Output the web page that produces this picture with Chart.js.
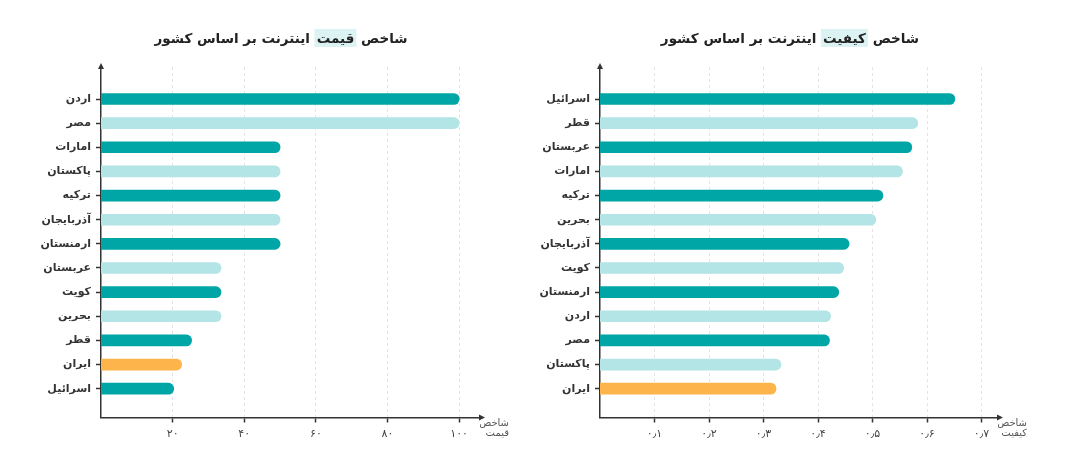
<!DOCTYPE html>
<html lang="fa">
<head>
<meta charset="utf-8">
<script src="https://cdn.jsdelivr.net/npm/chart.js@4.4.0/dist/chart.umd.min.js"></script>
<style>
  html, body { margin: 0; padding: 0; background: #fff; }
  body { width: 1080px; height: 462px; position: relative; overflow: hidden; font-family: "DejaVu Sans", sans-serif; }
  .panel { position: absolute; top: 0; width: 540px; height: 462px; }
  .title { position: absolute; top: 30px; transform: translateX(-50%); font-weight: bold; font-size: 13.5px; color: #222; direction: rtl; white-space: nowrap; }
  .title span { background: #dcf2f3; padding: 1px 2px; }
</style>
</head>
<body>
<div class="panel" style="left:0"><canvas id="priceChart"></canvas></div>
<div class="panel" style="left:540px"><canvas id="qualityChart"></canvas></div>
<div class="title" style="left:281px">شاخص <span>قیمت</span> اینترنت بر اساس کشور</div>
<div class="title" style="left:790px">شاخص <span>کیفیت</span> اینترنت بر اساس کشور</div>
<script>
// price index by country
const priceCountries = ["اردن", "مصر", "امارات", "پاکستان", "ترکیه", "آذربایجان", "ارمنستان", "عربستان", "کویت", "بحرین", "قطر", "ایران", "اسرائیل"];
const priceValues = [100, 100, 50, 50, 50, 50, 50, 33.5, 33.5, 33.5, 25.3, 22.5, 20.3];
const priceTicks = [20, 40, 60, 80, 100];
const priceTickLabels = ["۲۰", "۴۰", "۶۰", "۸۰", "۱۰۰"];

// quality index by country
const qualityCountries = ["اسرائیل", "قطر", "عربستان", "امارات", "ترکیه", "بحرین", "آذربایجان", "کویت", "ارمنستان", "اردن", "مصر", "پاکستان", "ایران"];
const qualityValues = [0.651, 0.583, 0.572, 0.555, 0.519, 0.506, 0.457, 0.447, 0.438, 0.423, 0.421, 0.332, 0.323];
const qualityTicks = [0.1, 0.2, 0.3, 0.4, 0.5, 0.6, 0.7];
const qualityTickLabels = ["۰٫۱", "۰٫۲", "۰٫۳", "۰٫۴", "۰٫۵", "۰٫۶", "۰٫۷"];

const DARK = "#00a5a6";
const LIGHT = "#b3e4e6";
const IRAN = "#fdb44b";
const FONT = '"DejaVu Sans", sans-serif';

const axisExtras = {
  id: "axisExtras",
  afterDraw(chart, args, opts) {
    const { ctx, chartArea: a } = chart;
    ctx.save();
    ctx.fillStyle = "#333";
    ctx.beginPath();
    ctx.moveTo(a.left, a.top - 4);
    ctx.lineTo(a.left - 3, a.top + 2);
    ctx.lineTo(a.left + 3, a.top + 2);
    ctx.fill();
    ctx.beginPath();
    ctx.moveTo(a.right + 4, a.bottom);
    ctx.lineTo(a.right - 2, a.bottom - 3);
    ctx.lineTo(a.right - 2, a.bottom + 3);
    ctx.fill();
    ctx.fillStyle = "#555";
    ctx.font = "10px " + FONT;
    ctx.textAlign = "right";
    ctx.textBaseline = "middle";
    const x = a.right + 28;
    ctx.fillText(opts.lines[0], x, a.bottom + 6);
    ctx.fillText(opts.lines[1], x, a.bottom + 16);
    ctx.restore();
  }
};

function makeChart(id, countries, values, ticks, tickLabels, xMax, padRight, yWidth, titleLines) {
  const ctx = document.getElementById(id);
  return new Chart(ctx, {
    type: "bar",
    data: {
      datasets: [
        {
          data: values.map((v, i) => ({ x: v, y: i })),
          backgroundColor: (c) => {
            if (countries[c.dataIndex] === "ایران") return IRAN;
            return c.dataIndex % 2 ? LIGHT : DARK;
          },
          barThickness: 11,
          borderRadius: 6,
          borderSkipped: "start",
        },
      ],
    },
    options: {
      indexAxis: "y",
      responsive: true,
      maintainAspectRatio: false,
      animation: false,
      layout: { padding: { top: 67, right: padRight, bottom: 0, left: 0 } },
      scales: {
        x: {
          type: "linear",
          min: 0,
          max: xMax,
          afterBuildTicks: (s) => { s.ticks = ticks.map((v) => ({ value: v })); },
          afterFit: (s) => { s.height = 44.5; },
          grid: { color: "#e4e4e4", lineWidth: 1, tickLength: 5, tickColor: "#333", tickWidth: 1.5 },
          border: { color: "#333", width: 1.5, dash: [3, 3] },
          ticks: {
            padding: 5,
            color: "#444",
            font: { family: FONT, size: 11 },
            callback: (v) => tickLabels[ticks.indexOf(v)],
          },
        },
        y: {
          type: "linear",
          reverse: true,
          offset: false,
          min: -1.326,
          max: 13.193,
          afterBuildTicks: (s) => { s.ticks = countries.map((c, i) => ({ value: i })); },
          afterFit: (s) => { s.width = yWidth; },
          grid: { offset: false, drawOnChartArea: false, tickLength: 5, tickColor: "#333", tickWidth: 1.5 },
          border: { color: "#333", width: 1.5 },
          ticks: {
            autoSkip: false,
            padding: 5,
            color: "#333",
            font: { family: FONT, size: 11, weight: "bold" },
            callback: (v) => countries[v],
          },
        },
      },
      plugins: {
        legend: { display: false },
        tooltip: { enabled: false },
        axisExtras: { lines: titleLines },
      },
    },
    plugins: [axisExtras],
  });
}

makeChart("priceChart", priceCountries, priceValues, priceTicks, priceTickLabels, 106.1, 59, 101, ["شاخص", "قیمت"]);
makeChart("qualityChart", qualityCountries, qualityValues, qualityTicks, qualityTickLabels, 0.732, 81, 60, ["شاخص", "کیفیت"]);
</script>
</body>
</html>
